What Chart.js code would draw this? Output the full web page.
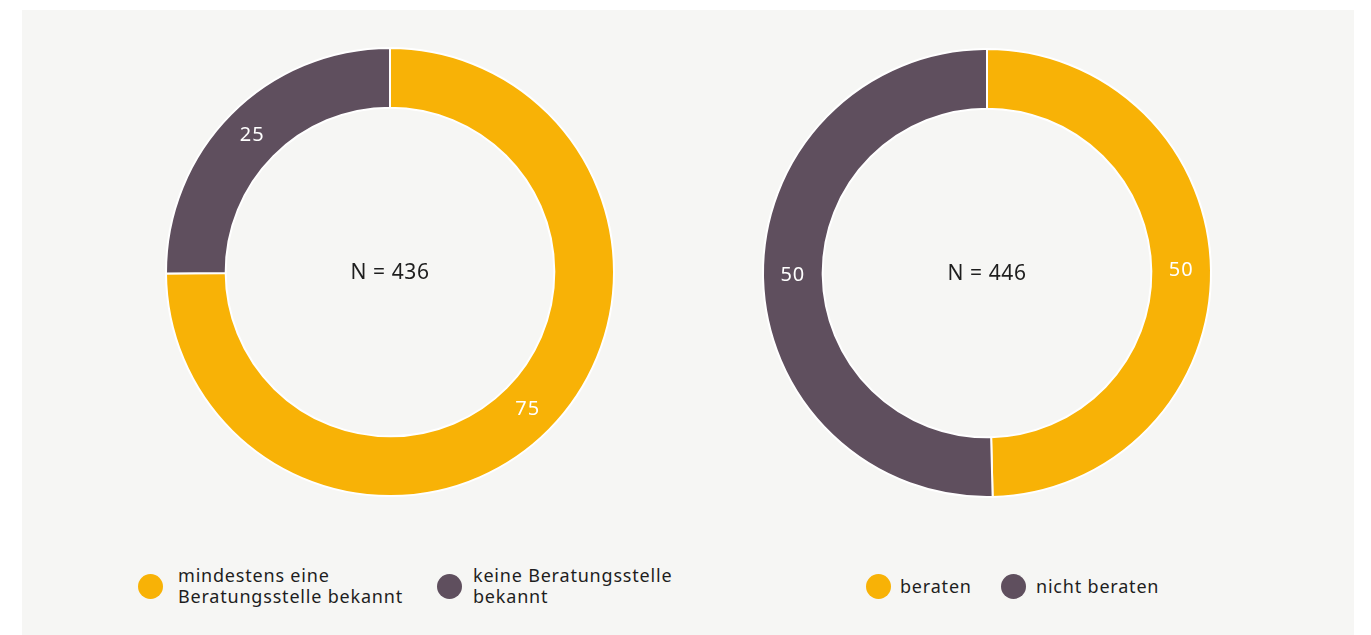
<!DOCTYPE html>
<html>
<head>
<meta charset="utf-8">
<script src="https://cdn.jsdelivr.net/npm/chart.js@4"></script>
<style>
  body { margin: 0; background: #fff; font-family: "Noto Sans", sans-serif; }
  #panel { position: absolute; left: 22px; top: 10px; width: 1332px; height: 625px; background: #f6f6f4; }
  .box { position: absolute; width: 460px; height: 460px; }
  .legend { position: absolute; display: flex; align-items: center; font-size: 18px; letter-spacing: 0.8px; line-height: 21px; color: #1e1e1e; }
  .dot { width: 25px; height: 25px; border-radius: 50%; flex: none; }
</style>
</head>
<body>
<div id="panel"></div>
<div class="box" style="left:160px; top:42px;"><canvas id="c1"></canvas></div>
<div class="box" style="left:757px; top:43px;"><canvas id="c2"></canvas></div>
<div id="lg1"></div>
<div id="lg2"></div>
<script>
const colors = ["#f8b206", "#5f4f5e"];

const labels1 = [["mindestens eine", "Beratungsstelle bekannt"], ["keine Beratungsstelle", "bekannt"]];
const values1 = [74.9, 25.1];
const shown1 = ["75", "25"];
const n1 = "N = 436";

const labels2 = [["beraten"], ["nicht beraten"]];
const values2 = [49.6, 50.4];
const shown2 = ["50", "50"];
const n2 = "N = 446";

const sliceText = {
    id: "sliceText",
    afterDatasetsDraw(chart, args, opts) {
        const ctx = chart.ctx;
        const meta = chart.getDatasetMeta(0);
        ctx.save();
        ctx.textAlign = "center";
        ctx.textBaseline = "middle";
        ctx.fillStyle = "#fff";
        ctx.font = "20px 'Noto Sans'";
        ctx.letterSpacing = "1px";
        meta.data.forEach((arc, i) => {
            const p = arc.tooltipPosition();
            ctx.fillText(opts.shown[i], p.x, p.y);
        });
        ctx.fillStyle = "#1e1e1e";
        ctx.font = "21px 'Noto Sans'";
        ctx.letterSpacing = "0.6px";
        ctx.fillText(opts.center, meta.data[0].x, meta.data[0].y + 1);
        ctx.restore();
    }
};

function renderDonut(canvasId, labels, values, shown, center) {
    const ctx = document.getElementById(canvasId);
    new Chart(ctx, {
        type: "doughnut",
        data: {
            labels: labels.map(l => l.join(" ")),
            datasets: [{
                data: values,
                backgroundColor: colors,
                borderColor: "#ffffff",
                borderWidth: 2
            }]
        },
        options: {
            responsive: true,
            maintainAspectRatio: false,
            animation: false,
            radius: 224,
            cutout: 168,
            layout: { padding: 0 },
            plugins: {
                legend: { display: false },
                tooltip: { enabled: false },
                sliceText: { shown, center }
            }
        },
        plugins: [sliceText]
    });
}

function renderLegend(id, labels, positions) {
    const el = document.getElementById(id);
    labels.forEach((lab, i) => {
        const item = document.createElement("div");
        item.className = "legend";
        item.style.left = positions[i][0] + "px";
        item.style.top = positions[i][1] + "px";
        item.style.height = "44px";
        const dot = document.createElement("div");
        dot.className = "dot";
        dot.style.background = colors[i];
        const txt = document.createElement("div");
        txt.style.marginLeft = positions[i][2] + "px";
        txt.innerHTML = lab.join("<br>");
        item.appendChild(dot);
        item.appendChild(txt);
        el.appendChild(item);
    });
}

renderDonut("c1", labels1, values1, shown1, n1);
renderDonut("c2", labels2, values2, shown2, n2);
renderLegend("lg1", labels1, [[138, 564, 15], [437, 564, 11]]);
renderLegend("lg2", labels2, [[866, 564, 9], [1001, 564, 10]]);
</script>
</body>
</html>
